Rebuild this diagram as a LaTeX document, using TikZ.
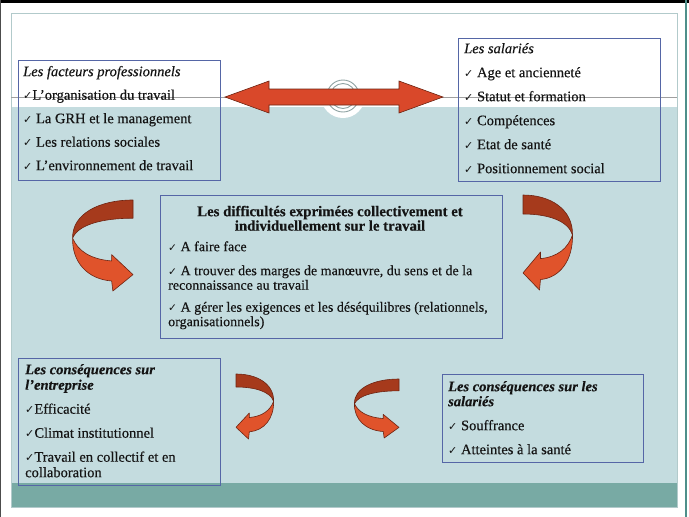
\documentclass[tikz,border=0pt]{standalone}
\usepackage{fontspec}
\setmainfont{Liberation Serif}[FakeBold=0.35]
\newfontfamily\checkfont[Scale=0.76]{DejaVu Sans}
\newcommand{\ck}{{\checkfont ✓}}
\newcommand{\fl}{\rule{0pt}{11pt}}
\definecolor{ink}{HTML}{141414}
\definecolor{paleblue}{HTML}{C4DCDF}
\definecolor{bandteal}{HTML}{78AAA4}
\definecolor{framec}{HTML}{B2CACB}
\definecolor{boxblue}{HTML}{5566A6}
\definecolor{arrowfill}{HTML}{D9482A}
\definecolor{arrowedge}{HTML}{6E2412}
\definecolor{ribdarkc}{HTML}{A63A1C}
\definecolor{riblightc}{HTML}{E0532B}
\definecolor{ringc}{HTML}{8FA3A3}
\definecolor{edgeteal}{HTML}{4F8F8A}
\tikzset{
  box/.style={draw=boxblue, line width=0.9pt, inner sep=0pt, anchor=north west},
  txt/.style={anchor=north west, inner sep=0pt, align=left, text=ink},
  ribdark/.style={fill=ribdarkc, draw=arrowedge, line width=0.6pt, line join=round},
  riblight/.style={fill=riblightc, draw=arrowedge, line width=0.6pt, line join=round},
}
\newcommand{\ribbonarrow}[3]{%
  \begin{scope}[shift={#1},xscale=#2,yscale=#3]
    \path[ribdark] (0,0) .. controls (-0.55,0) and (-1,0.15) .. (-0.99,0.42)
      .. controls (-0.9,0.27) and (-0.5,0.2) .. (0,0.2) -- cycle;
    \path[riblight] (-0.99,0.42) .. controls (-0.9,0.56) and (-0.7,0.65) .. (-0.35,0.67)
      -- (-0.35,0.6) -- (0,0.82) -- (-0.33,1.0) -- (-0.35,0.89)
      .. controls (-0.75,0.87) and (-1.0,0.68) .. (-0.99,0.42) -- cycle;
  \end{scope}}
\begin{document}
\begin{tikzpicture}[x=1pt,y=-1pt]
\useasboundingbox (0,0) rectangle (689,517);
% page and slide background
\fill[white] (0,0) rectangle (689,517);
\fill[black] (0,0) rectangle (689,2.5);
\fill[gray!60!black] (0,0) rectangle (1.2,517);
\fill[edgeteal] (684.5,0) rectangle (686.5,517);
\fill[paleblue] (11,106.5) rectangle (677,483);
\fill[bandteal] (11,483) rectangle (677,507);
\draw[framec, line width=0.8pt] (11,13) rectangle (677,507);
\draw[gray!75, line width=0.8pt] (11,97.5) -- (677,97.5);
% ring ornament
\fill[white] (343,96) circle (22);
\draw[ringc, line width=0.9pt] (343,96) circle (16);
\draw[ringc, line width=0.9pt] (343,96) circle (12.5);
% double arrow
\path[fill=arrowfill, draw=arrowedge, line width=0.6pt, line join=miter]
  (225,97) -- (269,81) -- (269,89) -- (399,89) -- (399,81) -- (443,97)
  -- (399,113) -- (399,105) -- (269,105) -- (269,113) -- cycle;
% ribbon arrows
\ribbonarrow{(133,200)}{61}{91}
\ribbonarrow{(523,195)}{-50}{95}
\ribbonarrow{(236,374)}{-38}{65}
\ribbonarrow{(399,379)}{45}{59}
% boxes
\node[box, minimum width=202pt, minimum height=120pt] (fact) at (18,60) {};
\node[box, minimum width=202pt, minimum height=143pt] (sal) at (458,38) {};
\node[box, minimum width=342pt, minimum height=143pt] (diff) at (160,195) {};
\node[box, minimum width=202pt, minimum height=127pt] (cent) at (18,358) {};
\node[box, minimum width=201pt, minimum height=88pt] (csal) at (442,374) {};
% texts
\node[txt, font=\fontsize{14.5}{15}\selectfont] (factT) at (23,65)
  {\fl\textit{Les facteurs professionnels}\\[8.5pt]
   \ck L’organisation du travail\\[8.5pt]
   \ck\ La GRH et le management\\[8.5pt]
   \ck\ Les relations sociales\\[8.5pt]
   \ck\ L’environnement de travail};
\node[txt, font=\fontsize{14.5}{15}\selectfont] (salT) at (464,42)
  {\fl\textit{Les salariés}\\[9pt]
   \ck\ Age et ancienneté\\[9pt]
   \ck\ Statut et formation\\[9pt]
   \ck\ Compétences\\[9pt]
   \ck\ Etat de santé\\[9pt]
   \ck\ Positionnement social};
\node[anchor=north, inner sep=0pt, align=center, text=ink, font=\fontsize{14.8}{13}\selectfont\bfseries] (diffH) at (330,205)
  {\fl Les difficultés exprimées collectivement et\\
   individuellement sur le travail};
\node[txt, font=\fontsize{14}{14.5}\selectfont] (diffT) at (168,240)
  {\fl\ck\ A faire face\\[9.5pt]
   \ck\ A trouver des marges de manœuvre, du sens et de la\\
   reconnaissance au travail\\[7.5pt]
   \ck\ A gérer les exigences et les déséquilibres (relationnels,\\
   organisationnels)};
\node[txt, font=\fontsize{14.5}{15.5}\selectfont] (centT) at (25,363)
  {\fl\textbf{\textit{Les conséquences sur}}\\
   \textbf{\textit{l’entreprise}}\\[8.5pt]
   \ck Efficacité\\[8.5pt]
   \ck Climat institutionnel\\[8.5pt]
   \ck Travail en collectif et en\\
   collaboration};
\node[txt, font=\fontsize{14.5}{15}\selectfont] (csalT) at (448,380)
  {\fl\textbf{\textit{Les conséquences sur les}}\\
   \textbf{\textit{salariés}}\\[9pt]
   \ck\ Souffrance\\[9pt]
   \ck\ Atteintes à la santé};
\end{tikzpicture}
\end{document}
